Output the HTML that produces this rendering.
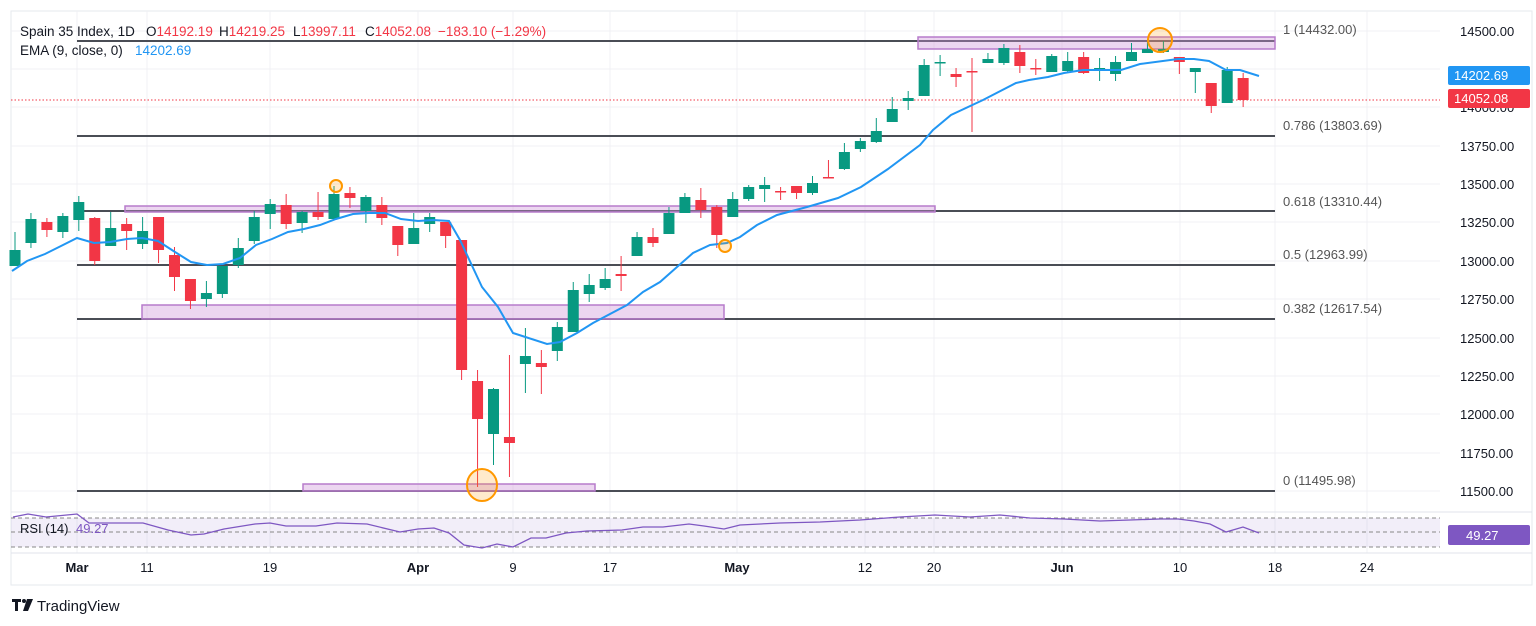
<!DOCTYPE html>
<html><head><meta charset="utf-8"><style>
html,body{margin:0;padding:0;background:#fff;width:1536px;height:626px;overflow:hidden;font-family:"Liberation Sans",sans-serif}
svg text{font-family:"Liberation Sans",sans-serif}
</style></head><body>
<svg id="c" width="1536" height="626" viewBox="0 0 1536 626" xmlns="http://www.w3.org/2000/svg">
<rect x="11" y="11" width="1521" height="574" fill="#fff" stroke="#e6e8ee"/>
<g id="grid" stroke="#f0f1f4" stroke-width="1"></g>
<line x1="11" y1="100" x2="1440" y2="100" stroke="#f23645" stroke-dasharray="1.5,2" stroke-width="1"/>
<g id="fib" stroke="#4a4d55" stroke-width="2"></g>
<g fill="rgba(206,147,216,0.38)" stroke="#b77ccb" stroke-width="1.5">
<rect x="918" y="37" width="357" height="12"/>
<rect x="125" y="206" width="810" height="6"/>
<rect x="142" y="305" width="582" height="14"/>
<rect x="303" y="484" width="292" height="7"/>
</g>
<g id="candles"></g>
<polyline id="ema" fill="none" stroke="#2196f3" stroke-width="2"/>
<g fill="rgba(255,152,0,0.2)" stroke="#ff9800" stroke-width="2">
<circle cx="1160" cy="40" r="12"/>
<circle cx="336" cy="186" r="6"/>
<circle cx="725" cy="246" r="6"/>
<ellipse cx="482" cy="485" rx="15" ry="16"/>
</g>
<g font-size="13" fill="#555">
<text x="1283" y="34">1 (14432.00)</text>
<text x="1283" y="130">0.786 (13803.69)</text>
<text x="1283" y="206">0.618 (13310.44)</text>
<text x="1283" y="259">0.5 (12963.99)</text>
<text x="1283" y="313">0.382 (12617.54)</text>
<text x="1283" y="485">0 (11495.98)</text>
</g>
<g font-size="13" fill="#131722" id="yax"></g>
<rect x="1448" y="66" width="82" height="19" rx="2" fill="#2196f3"/>
<text x="1454" y="80" font-size="13" fill="#fff">14202.69</text>
<rect x="1448" y="89" width="82" height="19" rx="2" fill="#f23645"/>
<text x="1454" y="103" font-size="13" fill="#fff">14052.08</text>
<line x1="11" y1="512" x2="1532" y2="512" stroke="#e0e3eb"/>
<rect x="11" y="518" width="1429" height="29" fill="rgba(126,87,194,0.1)"/>
<g stroke="#888" stroke-dasharray="4,3" stroke-width="1">
<line x1="11" y1="518" x2="1440" y2="518"/><line x1="11" y1="532" x2="1440" y2="532"/><line x1="11" y1="547" x2="1440" y2="547"/>
</g>
<polyline id="rsi" fill="none" stroke="#7e57c2" stroke-width="1.3"/>
<text x="20" y="533" font-size="13" fill="#131722">RSI (14)</text>
<text x="76" y="533" font-size="13" fill="#7e57c2">49.27</text>
<rect x="1448" y="525" width="82" height="20" rx="2" fill="#7e57c2"/>
<text x="1466" y="540" font-size="13" fill="#fff">49.27</text>
<line x1="11" y1="553" x2="1532" y2="553" stroke="#e0e3eb"/>
<g font-size="13" fill="#131722" text-anchor="middle" id="xax"></g>
<g font-size="13.5">
<text x="20" y="36" fill="#131722">Spain 35 Index, 1D</text>
<text x="146" y="36" fill="#131722">O<tspan fill="#f23645">14192.19</tspan></text>
<text x="219" y="36" fill="#131722">H<tspan fill="#f23645">14219.25</tspan></text>
<text x="293" y="36" fill="#131722">L<tspan fill="#f23645">13997.11</tspan></text>
<text x="365" y="36" fill="#131722">C<tspan fill="#f23645">14052.08</tspan></text>
<text x="438" y="36" fill="#f23645">−183.10 (−1.29%)</text>
<text x="20" y="55" fill="#131722">EMA (9, close, 0)</text>
<text x="135" y="55" fill="#2196f3">14202.69</text>
</g>
<g transform="translate(12,599)"><rect x="0" y="0" width="9" height="3" fill="#131722"/><rect x="3" y="0" width="3" height="12" fill="#131722"/><circle cx="12" cy="2" r="2" fill="#131722"/><polygon points="15,0 21,0 16,12 11,12" fill="#131722"/></g>
<text x="37" y="611" font-size="15" fill="#131722">TradingView</text>
</svg>
<script>
var NS="http://www.w3.org/2000/svg";
function el(p,t,a){var e=document.createElementNS(NS,t);for(var k in a)e.setAttribute(k,a[k]);document.getElementById(p).appendChild(e);return e;}
var gx=[77,147,270,418,513,610,737,865,934,1062,1180,1275,1367];
gx.forEach(function(x){el("grid","line",{x1:x,y1:11,x2:x,y2:553});});
var gy=[31,69,107,146,184,222,261,299,338,376,414,453,491];
gy.forEach(function(y){el("grid","line",{x1:11,y1:y,x2:1440,y2:y});});
[41,136,211,265,319,491].forEach(function(y){el("fib","line",{x1:77,y1:y,x2:1275,y2:y});});
var yl=["14500.00","","14000.00","13750.00","13500.00","13250.00","13000.00","12750.00","12500.00","12250.00","12000.00","11750.00","11500.00"];
yl.forEach(function(t,i){if(!t)return;var e=el("yax","text",{x:1460,y:gy[i]+5});e.textContent=t;});
var xl=[["Mar",77],["11",147],["19",270],["Apr",418],["9",513],["17",610],["May",737],["12",865],["20",934],["Jun",1062],["10",1180],["18",1275],["24",1367]];
xl.forEach(function(d){var e=el("xax","text",{x:d[1],y:572});e.textContent=d[0];if(/[A-Z]/.test(d[0]))e.setAttribute("font-weight","bold");});
var C=[[250,266,232,266,1],[219,243,213,248,1],[222,230,218,237,0],[216,232,213,238,1],[202,220,196,231,1],[218,261,217,265,0],[228,246,212,246,1],[224,231,218,250,0],[231,244,217,249,1],[217,250,217,263,0],
[255,277,247,291,0],[279,301,279,309,0],[293,299,281,307,1],[266,294,266,298,1],[248,265,238,268,1],[217,241,211,244,1],[204,214,199,229,1],[205,224,194,229,0],[212,223,211,233,1],[212,217,192,220,0],
[194,219,186,220,1],[193,198,187,208,0],[197,211,195,223,1],[205,218,197,225,0],[226,245,226,256,0],[228,244,213,244,1],[217,224,213,232,1],[222,236,222,248,0],[240,370,240,380,0],[381,419,370,487,0],
[389,434,388,465,1],[437,443,355,477,0],[356,364,328,393,1],[363,367,350,394,0],[327,351,322,361,1],[290,332,282,332,1],[285,294,274,302,1],[279,288,268,290,1],[274,276,256,291,0],[237,256,232,256,1],
[237,243,228,247,0],[213,234,207,234,1],[197,213,193,213,1],[200,210,188,218,0],[207,235,205,248,0],[199,217,192,217,1],[187,199,185,201,1],[185,189,177,202,1],[191,192,187,200,0],[186,193,186,199,0],
[183,193,176,195,1],[177,178,160,178,0],[152,169,143,170,1],[141,149,138,152,1],[131,142,118,143,1],[109,122,97,122,1],[98,101,91,110,1],[65,96,59,96,1],[62,63,55,76,1],[74,77,68,87,0],
[71,72,58,132,0],[59,63,53,63,1],[48,63,44,65,1],[52,66,45,73,0],[68,69,59,75,0],[56,72,54,72,1],[61,71,52,73,1],[57,73,52,74,0],[68,69,58,81,1],[62,74,56,81,1],
[52,61,43,61,1],[49,53,42,53,1],[49,52,41,53,1],[57,62,57,74,0],[68,72,68,93,1],[83,106,83,113,0],[70,103,67,103,1],[78,100,73,107,0]];
C.forEach(function(c,i){var x=15+15.95*i;var col=c[4]?"#089981":"#f23645";
el("candles","line",{x1:x,y1:c[2],x2:x,y2:c[3],stroke:col,"stroke-width":1});
el("candles","rect",{x:x-5.5,y:c[0],width:11,height:Math.max(1.5,c[1]-c[0]),fill:col});});
var E=[[12,271],[27,261],[45,254],[61,246],[77,238],[94,243],[110,242],[127,239],[142,238],[158,241],[175,252],[191,262],[207,265],[223,264],[240,258],[256,245],[272,239],[288,232],[304,229],[320,225],[336,219],[353,214],[369,213],[385,213],[401,219],[418,221],[433,220],[449,221],[460,240],[482,287],[498,307],[513,333],[547,344],[560,342],[577,333],[593,323],[627,305],[643,292],[660,282],[677,267],[693,253],[710,245],[727,243],[740,237],[757,225],[777,215],[807,207],[838,198],[861,187],[888,169],[920,145],[933,130],[951,115],[983,100],[1016,83],[1029,80],[1048,77],[1064,73],[1083,70],[1121,70],[1140,64],[1178,59],[1194,59],[1209,61],[1226,70],[1240,70],[1259,76]];
document.getElementById("ema").setAttribute("points",E.map(function(p){return p.join(",")}).join(" "));
var R=[[13,517],[28,514],[46,517],[77,514],[89,523],[102,523],[143,523],[168,530],[191,535],[204,534],[224,529],[255,524],[270,523],[286,526],[316,526],[337,523],[367,524],[400,532],[418,529],[434,528],[449,533],[464,545],[482,548],[497,544],[513,547],[531,538],[546,538],[566,533],[587,531],[622,530],[643,527],[663,527],[689,524],[704,526],[724,529],[740,525],[780,523],[820,522],[860,520],[900,517],[935,515],[970,517],[1000,515],[1030,518],[1064,519],[1100,521],[1130,520],[1160,519],[1178,519],[1194,521],[1210,524],[1226,532],[1243,527],[1259,533]];
document.getElementById("rsi").setAttribute("points",R.map(function(p){return p.join(",")}).join(" "));
</script>
</body></html>
